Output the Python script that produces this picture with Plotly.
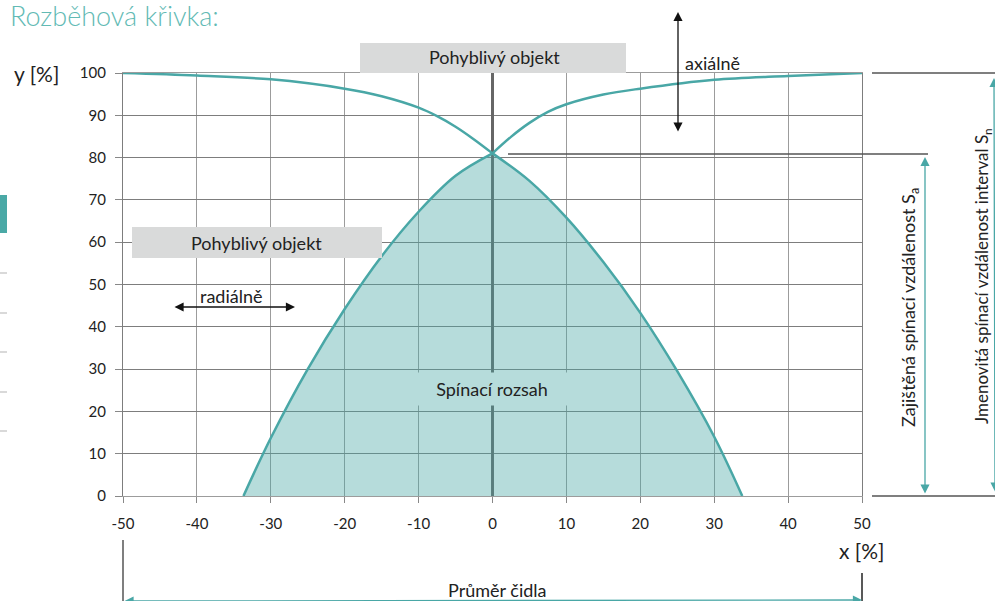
import plotly.graph_objects as go

# tick values and labels
x_ticks = [-50, -40, -30, -20, -10, 0, 10, 20, 30, 40, 50]
x_tick_labels = ['-50', '-40', '-30', '-20', '-10', '0', '10', '20', '30', '40', '50']
y_ticks = [0, 10, 20, 30, 40, 50, 60, 70, 80, 90, 100]

# upper curves (axial approach)
top_left_x = [-50, -40, -30, -20, -15, -10, -7.5, -5, -2.5, 0]
top_left_y = [100, 99.4, 98.5, 96.3, 94.5, 91.8, 89.8, 87.3, 84.3, 81]
top_right_x = [0, 2.5, 5, 7.5, 10, 15, 20, 30, 40, 50]
top_right_y = [81, 84.9, 88.2, 90.8, 92.6, 94.9, 96.3, 98.4, 99.3, 100]

# lower curve (switching range), split at the peak
low_left_x = [-33.7, -30, -25, -20, -15, -10, -5, 0]
low_left_y = [0, 13.7, 30.0, 44.2, 56.7, 67.2, 75.7, 81]
low_right_x = [0, 5, 10, 15, 20, 25, 30, 33.8]
low_right_y = [81, 74.5, 65.8, 55.3, 43.3, 29.5, 14.0, 0]

TEAL = '#49a7a6'
FILL = 'rgba(73,167,166,0.40)'
FILL_SOLID = '#b6dcdb'
FONT = 'Lato'

# plot area in pixels (for placing the decorations around it)
L, R, T, B = 123, 862, 73, 496


def px(p):
    return (p - L) / (R - L)


def py(p):
    return (B - p) / (B - T)


fig = go.Figure()

for xs, ys in [(low_left_x, low_left_y), (low_right_x, low_right_y)]:
    fig.add_trace(go.Scatter(x=xs, y=ys, mode='lines', fill='tozeroy',
                             fillcolor=FILL, line=dict(color=TEAL, width=2.5, shape='spline'),
                             hoverinfo='skip'))

for xs, ys in [(top_left_x, top_left_y), (top_right_x, top_right_y)]:
    fig.add_trace(go.Scatter(x=xs, y=ys, mode='lines',
                             line=dict(color=TEAL, width=2.5, shape='spline'),
                             hoverinfo='skip'))

shapes = [
    # grey boxes
    dict(type='rect', xref='paper', yref='paper', x0=px(360), x1=px(626), y0=py(73), y1=py(43),
         fillcolor='#d9dada', line_width=0),
    dict(type='rect', xref='paper', yref='paper', x0=px(132), x1=px(382), y0=py(258), y1=py(227),
         fillcolor='#d9dada', line_width=0),
    # reference lines to the right
    dict(type='line', xref='paper', yref='paper', x0=px(508), x1=px(928), y0=py(154), y1=py(154),
         line=dict(color='#555', width=1.5)),
    dict(type='line', xref='paper', yref='paper', x0=px(872), x1=px(995), y0=1, y1=1,
         line=dict(color='#555', width=1.5)),
    dict(type='line', xref='paper', yref='paper', x0=px(872), x1=px(995), y0=0, y1=0,
         line=dict(color='#555', width=1.5)),
    # bottom dimension lines
    dict(type='line', xref='paper', yref='paper', x0=0, x1=0, y0=py(540), y1=py(601),
         line=dict(color='#555', width=1.5)),
    dict(type='line', xref='paper', yref='paper', x0=1, x1=1, y0=py(573), y1=py(601),
         line=dict(color='#222', width=1.5)),
    # page sidebar remnants
    dict(type='rect', xref='paper', yref='paper', x0=px(0), x1=px(7), y0=py(233), y1=py(195),
         fillcolor='#4aa9a6', line_width=0),
]
for yy in [273, 313, 352, 392, 431]:
    shapes.append(dict(type='line', xref='paper', yref='paper', x0=px(0), x1=px(7),
                       y0=py(yy), y1=py(yy), line=dict(color='#cccccc', width=1.5)))


def text(t, x, y, size=18, color='#222', weight=400, **kw):
    a = dict(text=t, xref='paper', yref='paper', x=px(x), y=py(y), showarrow=False,
             xanchor='center', yanchor='middle',
             font=dict(family=FONT, size=size, color=color, weight=weight))
    a.update(kw)
    return a


def arrow(x, y, ax, ay, color):
    return dict(text='', xref='paper', yref='paper', x=px(x), y=py(y), ax=ax, ay=ay,
                showarrow=True, arrowside='end+start', arrowhead=2, startarrowhead=2,
                arrowsize=1.4, startarrowsize=1.4, arrowwidth=1.3, arrowcolor=color,
                standoff=0, startstandoff=0)


annotations = [
    text('Rozběhová křivka:', 8, 16, size=27, color='#62bab4', weight=300, xanchor='left'),
    text('y [%]', 12, 73, size=21, xanchor='left'),
    text('x [%]', 862, 550, size=21),
    text('Pohyblivý objekt', 494, 57),
    text('Pohyblivý objekt', 256, 243),
    text('axiálně', 683, 63, xanchor='left'),
    text('radiálně', 231, 296),
    text('Spínací rozsah', 492, 389, bgcolor=FILL_SOLID, width=150, height=30),
    text('Zajištěná spínací vzdálenost S<sub>a</sub>', 909, 308, textangle=-90),
    text('Jmenovitá spínací vzdálenost interval S<sub>n</sub>', 983, 276, size=17, textangle=-90),
    text('Průměr čidla', 497, 590),
    arrow(925, 157, 0, 338, TEAL),
    arrow(997, 78, 0, 415, TEAL),
    arrow(862, 603, -739, 0, TEAL),
    arrow(678, 12, 0, 121, '#111'),
    arrow(295, 307, -122, 0, '#111'),
]

fig.update_layout(
    width=995, height=601,
    margin=dict(l=L, r=995 - R, t=T, b=601 - B),
    paper_bgcolor='white', plot_bgcolor='white',
    showlegend=False,
    font=dict(family=FONT, size=15, color='#222'),
    shapes=shapes,
    annotations=annotations,
    xaxis=dict(range=[-50, 50], tickvals=x_ticks, ticktext=x_tick_labels,
               showgrid=True, gridcolor='#9c9c9c', gridwidth=1.3,
               zeroline=True, zerolinecolor='#666', zerolinewidth=2.5,
               showline=True, linecolor='#9c9c9c', linewidth=1.3, mirror=True,
               ticks='outside', ticklen=6, tickcolor='#888', tickwidth=1.3,
               ticklabelstandoff=8, fixedrange=True),
    yaxis=dict(range=[0, 100], tickvals=y_ticks, showgrid=True, gridcolor='#7d7d7d', gridwidth=1.3,
               zeroline=False, showline=True, linecolor='#7d7d7d', linewidth=1.3, mirror=True,
               ticks='outside', ticklen=7, tickcolor='#888', tickwidth=1.3,
               ticklabelstandoff=6, fixedrange=True),
)

fig.write_html("out.html", config={'displayModeBar': False},
               post_script="document.body.style.margin = '0';")
